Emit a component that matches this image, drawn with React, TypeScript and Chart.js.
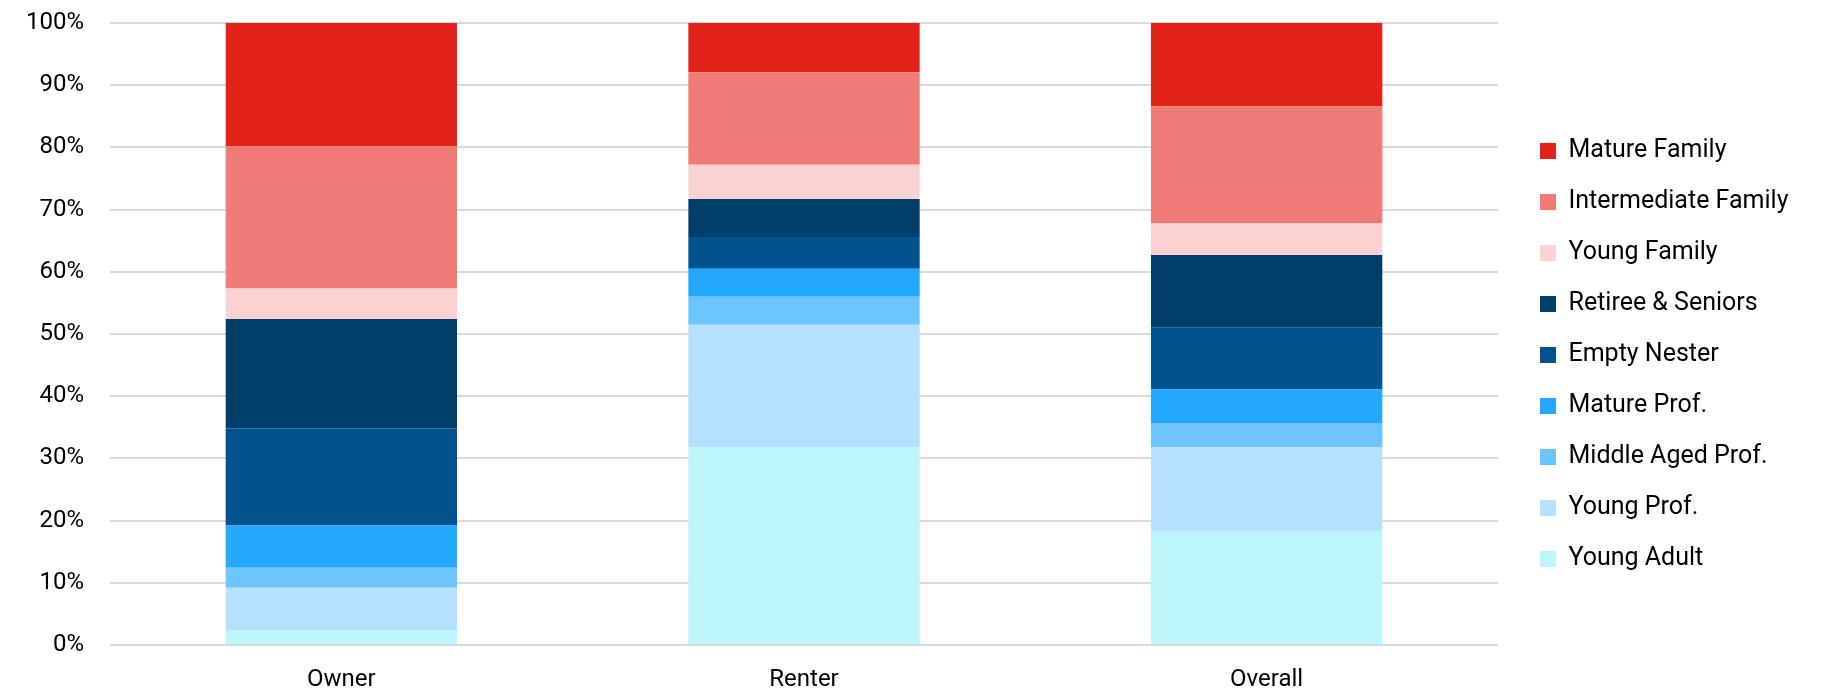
import React, { useEffect, useRef } from "react";
import { Chart, registerables } from "chart.js";

Chart.register(...registerables);

const categories = ["Owner", "Renter", "Overall"];
const yTickValues = [0, 10, 20, 30, 40, 50, 60, 70, 80, 90, 100];

const youngAdult = [2.4, 31.8, 18.2];
const youngProf = [6.8, 19.7, 13.6];
const middleAgedProf = [3.2, 4.5, 3.9];
const matureProf = [6.8, 4.5, 5.4];
const emptyNester = [15.6, 5.1, 10.0];
const retireeSeniors = [17.6, 6.1, 11.6];
const youngFamily = [4.9, 5.5, 5.1];
const intermediateFamily = [22.9, 14.9, 18.8];
const matureFamily = [19.8, 7.9, 13.4];

const seriesNames = [
  "Young Adult",
  "Young Prof.",
  "Middle Aged Prof.",
  "Mature Prof.",
  "Empty Nester",
  "Retiree & Seniors",
  "Young Family",
  "Intermediate Family",
  "Mature Family",
];
const seriesValues = [
  youngAdult,
  youngProf,
  middleAgedProf,
  matureProf,
  emptyNester,
  retireeSeniors,
  youngFamily,
  intermediateFamily,
  matureFamily,
];
const seriesColors = [
  "#BDF6FA",
  "#B5E1FE",
  "#6CC5FF",
  "#22A9FF",
  "#00538C",
  "#003F6A",
  "#F9D2D1",
  "#F07B76",
  "#E2231A",
];

export default function App() {
  const canvasRef = useRef<HTMLCanvasElement | null>(null);

  useEffect(() => {
    if (!canvasRef.current) return;
    const chart = new Chart(canvasRef.current, {
      type: "bar",
      data: {
        labels: categories,
        datasets: seriesNames.map((name, i) => ({
          label: name,
          data: seriesValues[i],
          backgroundColor: seriesColors[i],
          borderWidth: 0,
          categoryPercentage: 1,
          barPercentage: 0.5,
        })),
      },
      options: {
        animation: false,
        responsive: true,
        maintainAspectRatio: false,
        layout: { padding: { left: 26, right: 23.5, top: 23, bottom: 9 } },
        plugins: {
          tooltip: { enabled: false },
          legend: {
            position: "right",
            reverse: true,
            labels: {
              boxWidth: 16,
              boxHeight: 16,
              padding: 26,
              color: "#000",
              font: { size: 25, family: "Roboto" },
            },
          },
        },
        scales: {
          x: {
            stacked: true,
            grid: {
              display: true,
              drawOnChartArea: false,
              drawTicks: true,
              tickLength: 21,
              tickColor: "rgba(0,0,0,0)",
            },
            border: { display: false },
            ticks: {
              padding: 0,
              color: "#000",
              font: { size: 24, family: "Roboto" },
            },
            afterFit: (s: any) => {
              s.height = 42;
            },
          },
          y: {
            stacked: true,
            min: 0,
            max: 100,
            afterBuildTicks: (scale: any) => {
              scale.ticks = yTickValues.map((v) => ({ value: v }));
            },
            grid: {
              color: "#D9D9D9",
              lineWidth: 2,
              drawTicks: true,
              tickLength: 26,
              tickColor: "rgba(0,0,0,0)",
            },
            border: { display: false },
            ticks: {
              padding: 0,
              color: "#000",
              font: { size: 24, family: "Roboto" },
              callback: (v: any) => `${v}%`,
            },
          },
          yRight: {
            type: "linear",
            position: "right",
            display: true,
            grid: { display: false, drawTicks: false },
            border: { display: false },
            ticks: { display: false },
            afterFit: (s: any) => {
              s.width = 16;
            },
          },
        },
      },
    } as any);
    return () => chart.destroy();
  }, []);

  return (
    <div
      style={{
        position: "absolute",
        left: 0,
        top: 0,
        width: "1822px",
        height: "696px",
        background: "#fff",
      }}
    >
      <canvas ref={canvasRef} />
    </div>
  );
}
